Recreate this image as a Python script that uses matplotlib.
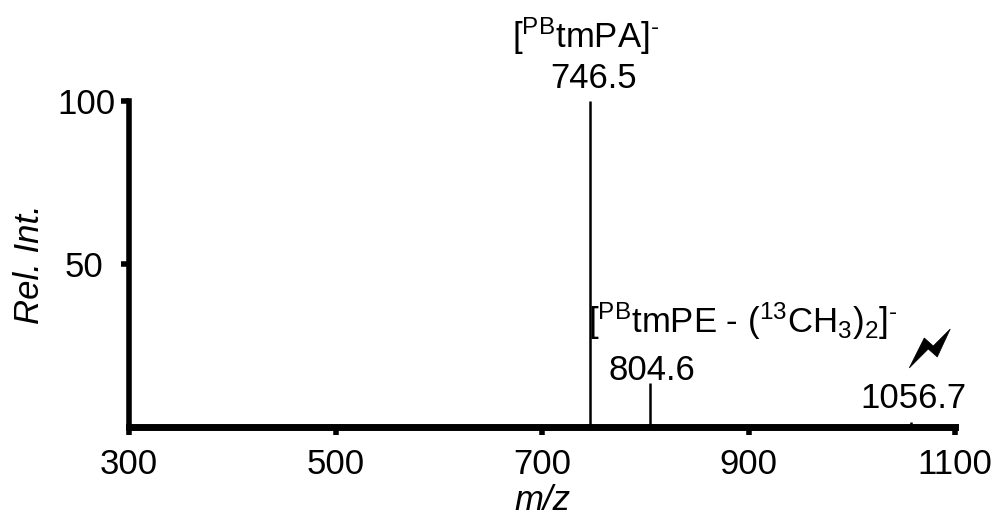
import matplotlib
matplotlib.use("Agg")
import matplotlib.pyplot as plt
from matplotlib.patches import Polygon
from matplotlib.transforms import ScaledTranslation

plt.rcParams['font.family'] = ['Liberation Sans Narrow', 'Liberation Sans', 'DejaVu Sans']
plt.rcParams['mathtext.fontset'] = 'custom'
plt.rcParams['mathtext.rm'] = 'Liberation Sans'
plt.rcParams['mathtext.it'] = 'Liberation Sans:italic'

# Data
mz = [373.6, 383.0, 501.0, 619.0, 724.0, 746.5, 768.0, 804.6, 856.0, 993.0, 1056.7]
intensity = [0.8, 0.8, 0.8, 0.6, 0.8, 100.0, 1.0, 13.5, 0.8, 0.8, 1.5]
x_ticks = [300, 500, 700, 900, 1100]
y_ticks = [50, 100]

fig = plt.figure(figsize=(9.93, 5.23), dpi=100)
ax = fig.add_axes([0.130, 0.1836, 0.832, 0.6233])
ax.vlines(mz, 0, intensity, color='black', lw=1.8)

ax.set_xlim(300, 1100)
ax.set_ylim(0, 100)
ax.set_xticks(x_ticks)
ax.set_yticks(y_ticks)
ax.spines['top'].set_visible(False)
ax.spines['right'].set_visible(False)
ax.spines['left'].set_linewidth(4)
ax.spines['bottom'].set_linewidth(5)
ax.spines['bottom'].set_capstyle('projecting')
ax.tick_params(axis='both', direction='out', length=6, width=4, labelsize=25)
ax.tick_params(axis='x', pad=9)
ax.tick_params(axis='y', pad=4)
ax.set_xlabel('m/z', fontsize=25, style='italic', labelpad=2)
ax.set_ylabel('Rel. Int.', fontsize=25, style='italic', labelpad=8)

# the "50" label sits a little further left in the reference
for lab in ax.get_yticklabels():
    if lab.get_text() == '50':
        lab.set_transform(lab.get_transform() + ScaledTranslation(-0.12, 0, fig.dpi_scale_trans))

fs = 25
ax.text(742, 116.3, r'[$^{\mathrm{PB}}$tmPA]$^{\text{-}}$', ha='center', va='baseline', fontsize=fs, clip_on=False)
ax.text(750, 104, '746.5', ha='center', va='baseline', fontsize=fs, clip_on=False)
ax.text(744.5, 28.8, r'[$^{\mathrm{PB}}$tmPE - ($^{\mathrm{13}}$CH$_{\mathrm{3}}$)$_{\mathrm{2}}$]$^{\text{-}}$',
        ha='left', va='baseline', fontsize=fs)
ax.text(806.5, 14.4, '804.6', ha='center', va='baseline', fontsize=fs)
ax.text(1059.3, 5.8, '1056.7', ha='center', va='baseline', fontsize=fs, clip_on=False)

# lightning bolt decoration (in axes fraction)
def fx(px):
    return (px - 129) / 826.0
def fy(py):
    return (427 - py) / 326.0
bolt_px = [(909, 368), (924, 338), (933, 346), (950, 329), (937, 357), (928, 349)]
bolt = Polygon([(fx(a), fy(b)) for a, b in bolt_px], closed=True, transform=ax.transAxes,
               facecolor='black', edgecolor='black', lw=0.5, clip_on=False)
ax.add_patch(bolt)

fig.savefig('out.png', dpi=100)
